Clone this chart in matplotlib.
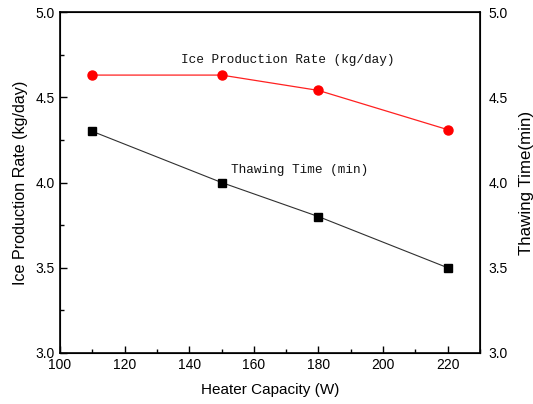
import matplotlib
matplotlib.use("Agg")
import matplotlib.pyplot as plt
from matplotlib.ticker import MultipleLocator

heater_capacity = [110, 150, 180, 220]
ice_rate = [4.63, 4.63, 4.54, 4.31]
thawing_time = [4.30, 4.00, 3.80, 3.50]
y_ticks = [3.0, 3.5, 4.0, 4.5, 5.0]
x_ticks = [100, 120, 140, 160, 180, 200, 220]

plt.rcParams["font.family"] = ["Liberation Sans", "DejaVu Sans"]

fig = plt.figure(figsize=(5.33, 4.04), dpi=100)
ax = fig.add_axes([60 / 533, 51 / 404, 420 / 533, 341 / 404])

ax.plot(heater_capacity, ice_rate, color="#ff2020", lw=0.9, marker="o",
        ms=6.5, mfc="red", mec="red", zorder=3)
ax.plot(heater_capacity, thawing_time, color="#303030", lw=0.8, marker="s",
        ms=5.5, mfc="black", mec="black", zorder=3)

ax.set_xlim(100, 230)
ax.set_ylim(3.0, 5.0)
ax.set_xticks(x_ticks)
ax.set_yticks(y_ticks)
ax.set_yticklabels([f"{v:.1f}" for v in y_ticks])
ax.xaxis.set_minor_locator(MultipleLocator(10))
ax.yaxis.set_minor_locator(MultipleLocator(0.25))
ax.tick_params(which="both", direction="in", top=False, right=False,
               labelsize=10, width=1.0)
ax.tick_params(which="major", length=5)
ax.tick_params(which="minor", length=3)
for s in ax.spines.values():
    s.set_linewidth(1.2)

ax.set_xlabel("Heater Capacity (W)", fontsize=11, labelpad=8)
ax.set_ylabel("Ice Production Rate (kg/day)", fontsize=11.6, labelpad=6)

ax2 = ax.twinx()
ax2.set_ylim(3.0, 5.0)
ax2.set_yticks(y_ticks)
ax2.set_yticklabels([f"{v:.1f}" for v in y_ticks])
ax2.tick_params(axis="y", length=0, labelsize=10, pad=6)
ax2.set_ylabel("Thawing Time(min)", fontsize=12.2, labelpad=8)

ax.text(137.5, 4.72, "Ice Production Rate (kg/day)", family="Liberation Mono",
        fontsize=9.2, va="center", ha="left", color="#111111")
ax.text(153, 4.073, "Thawing Time (min)", family="Liberation Mono",
        fontsize=9.2, va="center", ha="left", color="#111111")

fig.savefig("out.png", dpi=100)
